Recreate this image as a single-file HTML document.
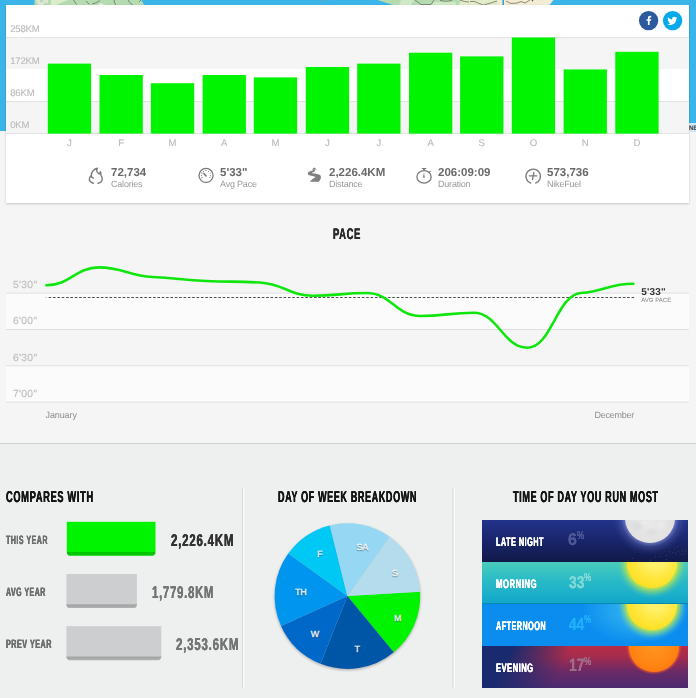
<!DOCTYPE html>
<html><head><meta charset="utf-8">
<style>
*{margin:0;padding:0;box-sizing:border-box}
html,body{width:696px;height:698px;overflow:hidden}
body{position:relative;background:#f5f5f5;font-family:"Liberation Sans",sans-serif;text-rendering:geometricPrecision}
.abs{position:absolute}
#blue{left:0;top:0;width:696px;height:131px;background:#3ab4e9}
#ne{left:688.700px;top:123px;width:8px;height:8.500px;background:#d4e9f5;overflow:hidden;font-size:6.500px;line-height:11.600px;color:#3a3a3a;white-space:nowrap;font-weight:bold}
#card{left:6px;top:5px;width:683px;height:198px;background:#fff;box-shadow:0 1px 2px rgba(0,0,0,.2)}
.band{position:absolute;left:0;width:683px;height:32px;background:#f5f5f5;border-top:1px solid #e2e2e2}
.yl{-webkit-text-stroke:.15px #bcbcbc;opacity:.999;position:absolute;left:4.2px;font-size:9.6px;color:#bcbcbc;line-height:10px;letter-spacing:-0.2px}
.ml{-webkit-text-stroke:.15px #bcbcbc;opacity:.999;position:absolute;top:139.0px;width:20px;text-align:center;font-size:9.6px;color:#bcbcbc;line-height:10px}
.stat{opacity:.999;position:absolute;top:166.3px}
.stat b{position:absolute;left:0;top:.4px;font-size:11.5px;line-height:13px;color:#6a6a6a;white-space:nowrap}
.stat span{position:absolute;left:0;top:12.800px;font-size:9px;line-height:10px;color:#9a9a9a;white-space:nowrap;letter-spacing:-0.2px}
.cond{position:absolute;white-space:nowrap;font-weight:bold;transform-origin:0 0}
#lower{left:0;top:443px;width:696px;height:255px;background:#eef0f0;border-top:1px solid #cecece}
.pl{opacity:.999;position:absolute;left:12.900px;font-size:10.300px;line-height:10px;color:#bebebe;letter-spacing:0.350px;-webkit-text-stroke:.2px #c4c4c4}
.pband{position:absolute;left:6px;width:683px;height:36px;background:#fbfbfb}
.pline{position:absolute;left:6px;width:683px;height:1px;background:#e2e2e2}
.row{position:absolute;left:482.3px;width:205.6px;height:42px;overflow:hidden}
</style></head><body>
<div id="blue" class="abs"></div>
<svg class="abs" style="left:0;top:0" width="696" height="5" viewBox="0 0 696 5">
<path d="M34.500,0H141.500L144,5H34.500Z" fill="#b4dcb0"/>
<path d="M377.500,0H498V5H393Z" fill="#b4dcb0"/>
<path d="M498,0H553.500L549.500,5H498Z" fill="#f2ecd2"/><path d="M461,0H498V5H459Z" fill="#e3ecc9"/>
<path d="M51,0H68L56,5H51Z" fill="#dcecc8"/>
<path d="M36,0h4v2h3v-2h5v3h-4v2h-6z" fill="#e2e8da" opacity=".8"/>
<path d="M401,0h13l-3,5h-12z" fill="#cfe8c6"/>
<path d="M434,2h22v3h-24z" fill="#cfe8c6"/>
<path d="M100,3l6,2h-8z" fill="#e8efdc"/>
<g fill="none" stroke="#6c6862" stroke-width="1" opacity=".75">
<path d="M73.500,0l3,4.500M86,1l3.500,3.500M92,4q5,-1 8,-3.500M114,0q0,3 2,5M128,0q2,4 5,5M139,2l2,-2"/>
<path d="M415,0l6,4.500h10l3,-4.500M440,0.500q6,1.500 12,0M460,0q4,2 9,2M470,1.500q5,-1 9,2t10,0l8,-2.500"/>
<path d="M506,1l5,2.500l6,-.5l4,-1.500l4,1.500l5,-3"/>
</g>
<circle cx="532.500" cy=".6" r=".8" fill="#555"/>
<rect x="502.400" y="0" width="1.600" height="5" fill="#3aa0e0"/>
<rect x="322.500" y="0" width="1.500" height="1.200" fill="#9a8a70"/>
</svg>
<div id="ne" class="abs">NE</div>
<div id="card" class="abs">
 <div class="band" style="top:32px"></div>
 <div class="band" style="top:96px"></div>
 <div class="abs" style="left:0;top:128px;width:683px;height:1px;background:#e2e2e2"></div>
 <div class="yl" style="top:20.0px">258KM</div>
 <div class="yl" style="top:52.0px">172KM</div>
 <div class="yl" style="top:84.0px">86KM</div>
 <div class="yl" style="top:116.0px">0KM</div>
</div>
<svg class="abs" style="left:0;top:0" width="696" height="140" viewBox="0 0 696 140"><rect x="47.8" y="63.6" width="43.3" height="70.0" fill="#00f400"/><rect x="99.5" y="75.0" width="43.3" height="58.6" fill="#00f400"/><rect x="150.9" y="83.2" width="43.3" height="50.4" fill="#00f400"/><rect x="202.6" y="75.0" width="43.3" height="58.6" fill="#00f400"/><rect x="253.8" y="77.4" width="43.3" height="56.2" fill="#00f400"/><rect x="305.8" y="67.0" width="43.3" height="66.6" fill="#00f400"/><rect x="357.2" y="63.6" width="43.3" height="70.0" fill="#00f400"/><rect x="409.0" y="52.7" width="43.3" height="80.9" fill="#00f400"/><rect x="460.1" y="56.4" width="43.3" height="77.2" fill="#00f400"/><rect x="511.8" y="37.5" width="43.3" height="96.1" fill="#00f400"/><rect x="563.6" y="69.4" width="43.3" height="64.2" fill="#00f400"/><rect x="615.3" y="51.8" width="43.3" height="81.8" fill="#00f400"/></svg>
<div class="ml" style="left:59.4px">J</div><div class="ml" style="left:111.2px">F</div><div class="ml" style="left:162.6px">M</div><div class="ml" style="left:214.2px">A</div><div class="ml" style="left:265.4px">M</div><div class="ml" style="left:317.4px">J</div><div class="ml" style="left:368.8px">J</div><div class="ml" style="left:420.6px">A</div><div class="ml" style="left:471.8px">S</div><div class="ml" style="left:523.5px">O</div><div class="ml" style="left:575.2px">N</div><div class="ml" style="left:626.9px">D</div>
<!-- social -->
<svg class="abs" style="left:636px;top:8px" width="50" height="26" viewBox="636 8 50 26">
<circle cx="648.6" cy="20.6" r="9.7" fill="#2c5a9c"/>
<g transform="translate(649.0,20.6) scale(.78) translate(-649.1,-21)"><path d="M649.9,26.6v-5.3h1.8l.3,-2.1h-2.1v-1.3c0,-.6 .2,-1 1,-1h1.1v-1.9c-.2,0 -.8,-.1 -1.6,-.1c-1.6,0 -2.7,1 -2.7,2.8v1.5h-1.8v2.1h1.8v5.3z" fill="#fff"/></g>
<circle cx="672.6" cy="20.6" r="9.7" fill="#08a9ea"/>
<g transform="translate(672.5,21.0) scale(.9) translate(-672.9,-20.6)"><path d="M678.2,17.1c-.4,.2 -.9,.3 -1.3,.4c.5,-.3 .8,-.7 1,-1.300c-.4,.3 -.9,.4 -1.400,.5c-.4,-.4 -1,-.7 -1.700,-.7c-1.500,0 -2.600,1.400 -2.200,2.800c-1.900,-.1 -3.600,-1 -4.700,-2.400c-.6,1 -.3,2.400 .7,3c-.4,0 -.7,-.1 -1,-.3c0,1.100 .8,2.100 1.800,2.300c-.3,.1 -.7,.1 -1,0c.3,.9 1.100,1.600 2.100,1.600c-1,.8 -2.200,1.100 -3.400,1c1,.6 2.200,1 3.500,1c4.300,0 6.700,-3.600 6.500,-6.800c.4,-.3 .800,-.700 1.100,-1.100z" fill="#fff"/></g>
</svg>
<!-- stats -->
<div class="stat" style="left:111px"><b>72,734</b><span>Calories</span></div>
<div class="stat" style="left:220px"><b>5'33"</b><span>Avg Pace</span></div>
<div class="stat" style="left:329px"><b>2,226.4KM</b><span>Distance</span></div>
<div class="stat" style="left:438px"><b>206:09:09</b><span>Duration</span></div>
<div class="stat" style="left:547px"><b>573,736</b><span>NikeFuel</span></div>
<svg class="abs" style="left:80px;top:160px" width="480" height="32" viewBox="80 160 480 32" fill="none" stroke="#7a7a7a" stroke-linecap="round" stroke-linejoin="round">
<!-- flame -->
<g transform="translate(84,162) scale(0.040128)" stroke-width="34">
<path d="M235,530C160,505 115,455 140,395C150,372 165,358 182,345C180,280 200,240 230,210C260,180 300,160 335,155C315,185 310,210 322,235C335,262 355,285 377,300C395,285 405,265 410,242C420,275 418,305 422,332C440,360 458,385 456,422C452,475 410,515 350,530"/>
<path d="M172,352C188,378 208,394 235,402"/>
</g>
<!-- gauge -->
<g transform="translate(193,162) scale(0.040128)">
<circle cx="325" cy="335" r="175" stroke-width="32"/>
<path d="M325,345L272,288" stroke-width="40"/>
<path d="M272,288L215,270" stroke-width="14"/>
<g stroke-width="26"><path d="M210,335h1M437,335h1M262,237h1M385,237h1"/></g>
<g stroke-width="16"><path d="M308,210h26M215,385h22M410,385h22M210,278l8,4M428,282l8,-4"/></g>
</g>
<!-- road -->
<g transform="translate(302,162) scale(0.040128)" fill="#808080" stroke="none">
<path d="M240,190L305,136L372,190Z"/>
<path d="M328,186C328,238 296,252 256,262C236,268 236,274 262,278C330,288 420,293 456,328C486,363 476,420 420,492L198,492C230,440 290,402 340,374C300,352 230,342 186,328C132,310 128,260 186,234C235,214 278,222 278,186Z"/>
</g>
<!-- stopwatch -->
<g transform="translate(411,162) scale(0.040128)">
<ellipse cx="325" cy="371" rx="178" ry="156" stroke-width="32"/>
<path d="M280,160H370" stroke-width="26"/>
<path d="M325,165V212" stroke-width="44" stroke-linecap="butt"/>
<path d="M448,254L482,236" stroke-width="28"/>
<path d="M322,285V360" stroke-width="16"/>
<path d="M322,350V382" stroke-width="36"/>
</g>
<!-- fuel -->
<g transform="translate(520,162) scale(0.040128)" stroke-width="33">
<path d="M268,525A180,180 0 1 1 390,525"/>
<path d="M232,345H420M345,262L312,432"/>
</g>
</svg>
<!-- pace -->
<svg class="abs" style="left:0;top:285px" width="696" height="125" viewBox="0 285 696 125">
<rect x="6" y="293.100" width="683" height="36.300" fill="#fbfbfb"/>
<rect x="6" y="365.700" width="683" height="36.300" fill="#fbfbfb"/>
<rect x="6" y="292.600" width="683" height="1" fill="#e0e0e0"/>
<rect x="6" y="329" width="683" height="1" fill="#e0e0e0"/>
<rect x="6" y="365.300" width="683" height="1" fill="#e0e0e0"/>
<rect x="6" y="401.600" width="683" height="1" fill="#e0e0e0"/>
</svg>
<div class="pl" style="top:281.0px">5'30"</div>
<div class="pl" style="top:317.3px">6'00"</div>
<div class="pl" style="top:353.600px">6'30"</div>
<div class="pl" style="top:389.900px">7'00"</div>
<svg class="abs" style="left:0;top:250px" width="696" height="160" viewBox="0 250 696 160">
<path d="M45.300,297.500h1.600" stroke="#4c4c4c" stroke-width="1" opacity=".3" fill="none"/><path d="M48.650,297.500H634.500" stroke="#4c4c4c" stroke-width="1" stroke-dasharray="2.600,1.750" fill="none"/>
<path d="M46.4,285.2C70.1,285.2 75.3,267.4 99.0,267.4C123.1,267.4 128.5,276.0 152.6,277.0C176.7,278.0 182.0,280.0 206.1,281.0C230.2,282.0 235.6,281.3 259.7,282.5C283.8,283.7 289.1,295.7 313.2,295.7C337.3,295.7 342.6,293.0 366.7,293.0C390.8,293.0 396.2,316.0 420.3,316.0C444.4,316.0 449.7,312.8 473.8,312.8C497.9,312.8 503.3,347.7 527.4,347.7C551.5,347.7 556.8,294.9 580.9,293.0C604.5,291.1 609.7,283.8 633.3,283.8" fill="none" stroke="#0ee60e" stroke-width="2.600" stroke-linecap="round" stroke-linejoin="round"/>
</svg>
<div class="abs" style="opacity:.999;left:641.200px;top:287.000px;font-size:10px;line-height:11px;font-weight:bold;color:#333;letter-spacing:0.2px">5'33"</div>
<div class="abs" style="opacity:.999;left:641.200px;top:297.900px;font-size:6.050px;line-height:6px;color:#808080;white-space:nowrap">AVG PACE</div>
<div class="abs" style="opacity:.999;left:45.500px;top:409.8px;font-size:9px;line-height:11px;color:#8e8e8e;letter-spacing:-.1px">January</div>
<div class="abs" style="opacity:.999;left:594.500px;top:409.8px;font-size:9px;line-height:11px;color:#8e8e8e;letter-spacing:-.25px">December</div>
<!-- lower -->
<div id="lower" class="abs"></div>
<svg class="abs" style="left:240px;top:486px" width="220" height="204" viewBox="240 486 220 204"><rect x="242" y="488" width="1" height="200" fill="#d8dada"/><rect x="243" y="488" width="1.200" height="200" fill="#fcfcfc"/><rect x="452.300" y="488" width="1.100" height="200" fill="#dddfdf"/><rect x="453.900" y="488" width="1.100" height="200" fill="#f9fafa"/></svg>
<svg class="abs" style="left:60px;top:515px" width="110" height="150" viewBox="60 515 110 150"><defs><linearGradient id="gg" x1="0" y1="0" x2="0" y2="1"><stop offset="0" stop-color="#00bc00"/><stop offset="1" stop-color="#00d000"/></linearGradient><linearGradient id="gr" x1="0" y1="0" x2="0" y2="1"><stop offset="0" stop-color="#9b9c9c"/><stop offset="1" stop-color="#b2b3b3"/></linearGradient></defs><path d="M66.8,551.5H155.5V552.0C155.5,554.0 154.3,555.7 152.5,555.7H69.8C68.0,555.7 66.8,554.0 66.8,552.0Z" fill="url(#gg)"/><rect x="66.8" y="521.8" width="88.7" height="30.2" fill="#00f400"/><path d="M66.4,603.9H136.9V604.4C136.9,606.4 135.70000000000002,608.1 133.9,608.1H69.4C67.60000000000001,608.1 66.4,606.4 66.4,604.4Z" fill="url(#gr)"/><rect x="66.4" y="574.0" width="70.5" height="30.4" fill="#cdcecf"/><path d="M66.4,656.1H161.3V656.6C161.3,658.6 160.10000000000002,660.3000000000001 158.3,660.3000000000001H69.4C67.60000000000001,660.3000000000001 66.4,658.6 66.4,656.6Z" fill="url(#gr)"/><rect x="66.4" y="626.2" width="94.9" height="30.4" fill="#cdcecf"/></svg>
<!-- pie -->
<svg class="abs" style="left:260px;top:515px" width="180" height="170" viewBox="260 515 180 170">
<defs><filter id="ps" x="-10%" y="-10%" width="120%" height="120%"><feGaussianBlur stdDeviation="1.200"/></filter></defs>
<circle cx="347.4" cy="597.3000000000001" r="73.3" fill="rgba(0,0,0,.22)" filter="url(#ps)"/>
<path d="M347.4,596.1L420.08,591.85A72.8,72.8 0 0 1 393.80,652.19Z" fill="#00f400"/><path d="M347.4,596.1L393.80,652.19A72.8,72.8 0 0 1 320.60,663.79Z" fill="#0056a6"/><path d="M347.4,596.1L320.60,663.79A72.8,72.8 0 0 1 281.00,625.94Z" fill="#0068c8"/><path d="M347.4,596.1L281.00,625.94A72.8,72.8 0 0 1 288.28,553.62Z" fill="#0095ee"/><path d="M347.4,596.1L288.28,553.62A72.8,72.8 0 0 1 329.79,525.46Z" fill="#00c8f5"/><path d="M347.4,596.1L329.79,525.46A72.8,72.8 0 0 1 389.57,536.76Z" fill="#96d8f4"/><path d="M347.4,596.1L389.57,536.76A72.8,72.8 0 0 1 420.08,591.85Z" fill="#b4dcec"/>
<g font-family="Liberation Sans, sans-serif" font-size="8.900" font-weight="normal" fill="#fff" stroke="#fff" stroke-width=".3" style="text-shadow:0 1px 1px rgba(0,0,0,.35)"><text x="397.6" y="620.5" text-anchor="middle">M</text><text x="357.3" y="651.9" text-anchor="middle">T</text><text x="315" y="637.4" text-anchor="middle">W</text><text x="300.8" y="595.4" text-anchor="middle">TH</text><text x="319.6" y="557.4" text-anchor="middle">F</text><text x="362.3" y="549.5" text-anchor="middle">SA</text><text x="395" y="575.6" text-anchor="middle">S</text></g>
</svg>
<!-- time of day -->
<div class="row" style="top:520px;background:linear-gradient(#22338a,#1a266e 45%,#111948)">
  <div class="abs" style="left:129.800px;top:-40px;width:76px;height:76px;border-radius:50%;background:radial-gradient(circle closest-side,rgba(130,142,210,.7) 66%,rgba(105,120,200,.32) 76%,rgba(80,95,180,.1) 90%,rgba(60,70,150,0) 100%)"></div>
  <div class="abs" style="left:142.800px;top:-27px;width:50px;height:50px;border-radius:50%;overflow:hidden;background:radial-gradient(circle at 50% 62%,#e9e9e9,#e0e0e0 60%,#d0d0d6 95%)">
    <i style="position:absolute;left:8px;top:30px;width:9px;height:7px;border-radius:50%;background:rgba(170,170,175,.13);filter:blur(1px)"></i>
    <i style="position:absolute;left:22px;top:36px;width:10px;height:6px;border-radius:50%;background:rgba(170,170,175,.12);filter:blur(1px)"></i>
    <i style="position:absolute;left:33px;top:28px;width:8px;height:8px;border-radius:50%;background:rgba(255,255,255,.2);filter:blur(1px)"></i>
    <i style="position:absolute;left:16px;top:27px;width:6px;height:5px;border-radius:50%;background:rgba(255,255,255,.2);filter:blur(1px)"></i>
  </div>
  <i style="position:absolute;left:176.6px;top:36.0px;width:.9px;height:.9px;background:rgba(170,150,70,.24)"></i><i style="position:absolute;left:179.4px;top:32.5px;width:.9px;height:.9px;background:rgba(170,150,70,.24)"></i><i style="position:absolute;left:183.5px;top:34.6px;width:.9px;height:.9px;background:rgba(170,150,70,.24)"></i><i style="position:absolute;left:187.0px;top:31.2px;width:.9px;height:.9px;background:rgba(170,150,70,.24)"></i><i style="position:absolute;left:189.7px;top:31.8px;width:.9px;height:.9px;background:rgba(170,150,70,.24)"></i><i style="position:absolute;left:192.5px;top:32.5px;width:.9px;height:.9px;background:rgba(170,150,70,.24)"></i><i style="position:absolute;left:195.9px;top:30.7px;width:.9px;height:.9px;background:rgba(170,150,70,.24)"></i><i style="position:absolute;left:198.7px;top:33.9px;width:.9px;height:.9px;background:rgba(170,150,70,.24)"></i><i style="position:absolute;left:201.4px;top:33.9px;width:.9px;height:.9px;background:rgba(170,150,70,.24)"></i><i style="position:absolute;left:191.8px;top:27.7px;width:.9px;height:.9px;background:rgba(170,150,70,.24)"></i><i style="position:absolute;left:200.1px;top:29.8px;width:.9px;height:.9px;background:rgba(170,150,70,.24)"></i><i style="position:absolute;left:184.2px;top:38.7px;width:.9px;height:.9px;background:rgba(170,150,70,.24)"></i><i style="position:absolute;left:167.6px;top:39.8px;width:.9px;height:.9px;background:rgba(170,150,70,.24)"></i><i style="position:absolute;left:155.9px;top:39.8px;width:.9px;height:.9px;background:rgba(170,150,70,.24)"></i><i style="position:absolute;left:149.7px;top:38.0px;width:.9px;height:.9px;background:rgba(170,150,70,.24)"></i><i style="position:absolute;left:145.6px;top:39.8px;width:.9px;height:.9px;background:rgba(170,150,70,.24)"></i><i style="position:absolute;left:172.5px;top:35.7px;width:.9px;height:.9px;background:rgba(170,150,70,.24)"></i><i style="position:absolute;left:194.5px;top:26.3px;width:.9px;height:.9px;background:rgba(170,150,70,.24)"></i><i style="position:absolute;left:202.8px;top:30.7px;width:.9px;height:.9px;background:rgba(170,150,70,.24)"></i>
</div>
<div class="row" style="top:562px;background:linear-gradient(#4accbc,#2cbcc6 40%,#10a6cc);box-shadow:inset 0 -1px 0 rgba(0,70,100,.3)">
  <div class="abs" style="left:133.900px;top:-35.400px;width:72px;height:72px;border-radius:50%;background:radial-gradient(circle closest-side,rgba(200,230,70,.95) 69%,rgba(150,220,110,.62) 80%,rgba(90,205,165,.25) 91%,rgba(80,200,180,0) 100%)"></div>
  <div class="abs" style="left:144.600px;top:-24.700px;width:50.400px;height:50.400px;border-radius:50%;background:radial-gradient(circle at 57% 40%,#fff274 0%,#fff068 25%,#ffe63c 52%,#ffdd1e 80%,#ffc808 95%,#ffb000 100%)"></div>
</div>
<div class="row" style="top:604px;background:#0b8df0">
  <div class="abs" style="left:100px;top:-30px;width:106px;height:70px;border-radius:50%;background:radial-gradient(ellipse closest-side,rgba(60,190,240,.55) 40%,rgba(40,160,240,0) 100%)"></div>
  <div class="abs" style="left:133.900px;top:-35.300px;width:72px;height:72px;border-radius:50%;background:radial-gradient(circle closest-side,rgba(200,230,70,.95) 69%,rgba(140,220,130,.62) 80%,rgba(70,190,210,.25) 91%,rgba(40,160,240,0) 100%)"></div>
  <div class="abs" style="left:144.600px;top:-24.600px;width:50.400px;height:50.400px;border-radius:50%;background:radial-gradient(circle at 57% 40%,#fff274 0%,#fff068 25%,#ffe63c 52%,#ffdd1e 80%,#ffc808 95%,#ffb000 100%)"></div>
</div>
<div class="row" style="top:646px;background:linear-gradient(118deg,#1a2a6e 0%,#1a2a6e 14%,rgba(26,42,110,.6) 25%,rgba(26,42,110,0) 40%),linear-gradient(180deg,#b82c46 0%,#a42c4e 26%,#6c2a66 60%,#4a2a70 100%)">
  <div class="abs" style="left:143.400px;top:-27.900px;width:56.800px;height:56.800px;border-radius:50%;background:radial-gradient(circle closest-side,rgba(240,90,40,.9) 88%,rgba(220,70,50,.0) 100%)"></div>
  <div class="abs" style="left:146.400px;top:-24.900px;width:50.800px;height:50.800px;border-radius:50%;background:radial-gradient(circle at 50% 45%,#ff9622,#ff8412 60%,#fa6410 100%)"></div>
</div>
<div class="cond" style="left:333.29px;top:226.68px;font-size:15.26px;line-height:15.26px;color:#2b2b2b;letter-spacing:0.07em;transform:scaleX(0.6151);text-shadow:0.25px 0 0,-0.25px 0 0">PACE</div>
<div class="cond" style="left:6.03px;top:489.61px;font-size:15.70px;line-height:15.70px;color:#151515;letter-spacing:0.07em;transform:scaleX(0.5924);text-shadow:0.22px 0 0,-0.22px 0 0">COMPARES WITH</div>
<div class="cond" style="left:277.91px;top:489.61px;font-size:15.70px;line-height:15.70px;color:#151515;letter-spacing:0.07em;transform:scaleX(0.5751);text-shadow:0.22px 0 0,-0.22px 0 0">DAY OF WEEK BREAKDOWN</div>
<div class="cond" style="left:512.61px;top:489.61px;font-size:15.70px;line-height:15.70px;color:#151515;letter-spacing:0.07em;transform:scaleX(0.5784);text-shadow:0.22px 0 0,-0.22px 0 0">TIME OF DAY YOU RUN MOST</div>
<div class="cond" style="left:6.33px;top:534.49px;font-size:12.06px;line-height:12.06px;color:#6f6f6f;letter-spacing:0.07em;transform:scaleX(0.5863);text-shadow:0.35px 0 0,-0.35px 0 0">THIS YEAR</div>
<div class="cond" style="left:6.26px;top:586.49px;font-size:12.06px;line-height:12.06px;color:#6f6f6f;letter-spacing:0.07em;transform:scaleX(0.5801);text-shadow:0.35px 0 0,-0.35px 0 0">AVG YEAR</div>
<div class="cond" style="left:5.93px;top:638.49px;font-size:12.06px;line-height:12.06px;color:#6f6f6f;letter-spacing:0.07em;transform:scaleX(0.5961);text-shadow:0.35px 0 0,-0.35px 0 0">PREV YEAR</div>
<div class="cond" style="left:170.76px;top:532.30px;font-size:17.01px;line-height:17.01px;color:#333;letter-spacing:0.07em;transform:scaleX(0.6738);text-shadow:0.25px 0 0,-0.25px 0 0">2,226.4KM</div>
<div class="cond" style="left:152.32px;top:584.30px;font-size:17.01px;line-height:17.01px;color:#757575;letter-spacing:0.07em;transform:scaleX(0.6621);text-shadow:0.2px 0 0,-0.2px 0 0">1,779.8KM</div>
<div class="cond" style="left:176.36px;top:636.30px;font-size:17.01px;line-height:17.01px;color:#757575;letter-spacing:0.07em;transform:scaleX(0.6738);text-shadow:0.2px 0 0,-0.2px 0 0">2,353.6KM</div>
<div class="cond" style="opacity:.999;left:495.53px;top:536.02px;font-size:12.50px;line-height:12.50px;color:#fff;letter-spacing:0.07em;transform:scaleX(0.5786);text-shadow:0.2px 0 0,-0.2px 0 0">LATE NIGHT</div>
<div class="cond" style="opacity:.999;left:495.50px;top:577.94px;font-size:12.35px;line-height:12.35px;color:#fff;letter-spacing:0.07em;transform:scaleX(0.6264);text-shadow:0.2px 0 0,-0.2px 0 0">MORNING</div>
<div class="cond" style="opacity:.999;left:495.86px;top:619.94px;font-size:12.35px;line-height:12.35px;color:#fff;letter-spacing:0.07em;transform:scaleX(0.5828);text-shadow:0.2px 0 0,-0.2px 0 0">AFTERNOON</div>
<div class="cond" style="opacity:.999;left:495.51px;top:661.94px;font-size:12.35px;line-height:12.35px;color:#fff;letter-spacing:0.07em;transform:scaleX(0.6107);text-shadow:0.2px 0 0,-0.2px 0 0">EVENING</div>
<div class="cond" style="opacity:.999;left:568.24px;top:531.30px;font-size:17.01px;line-height:17.01px;color:#4d5897;letter-spacing:0em;transform:scaleX(0.9336);text-shadow:0.05px 0 0,-0.05px 0 0">6</div>
<div class="cond" style="opacity:.999;left:569.02px;top:573.50px;font-size:17.01px;line-height:17.01px;color:#7fd8d6;letter-spacing:0em;transform:scaleX(0.8129);text-shadow:0.05px 0 0,-0.05px 0 0">33</div>
<div class="cond" style="opacity:.999;left:569.09px;top:615.70px;font-size:17.01px;line-height:17.01px;color:#22aef8;letter-spacing:0em;transform:scaleX(0.8047);text-shadow:0.05px 0 0,-0.05px 0 0">44</div>
<div class="cond" style="opacity:.999;left:569.17px;top:657.29px;font-size:17.73px;line-height:17.73px;color:#a26a8a;letter-spacing:0em;transform:scaleX(0.7808);text-shadow:0.05px 0 0,-0.05px 0 0">17</div>
<div class="cond" style="opacity:.999;left:576.84px;top:530.80px;font-size:11.34px;line-height:11.34px;color:#4d5897;letter-spacing:0em;transform:scaleX(0.7203);text-shadow:0.0px 0 0,-0.0px 0 0">%</div>
<div class="cond" style="opacity:.999;left:584.14px;top:573.13px;font-size:11.19px;line-height:11.19px;color:#7fd8d6;letter-spacing:0em;transform:scaleX(0.7296);text-shadow:0.0px 0 0,-0.0px 0 0">%</div>
<div class="cond" style="opacity:.999;left:584.44px;top:615.33px;font-size:11.19px;line-height:11.19px;color:#22aef8;letter-spacing:0em;transform:scaleX(0.7296);text-shadow:0.0px 0 0,-0.0px 0 0">%</div>
<div class="cond" style="opacity:.999;left:584.14px;top:657.00px;font-size:11.34px;line-height:11.34px;color:#a26a8a;letter-spacing:0em;transform:scaleX(0.7203);text-shadow:0.0px 0 0,-0.0px 0 0">%</div>
</body></html>
